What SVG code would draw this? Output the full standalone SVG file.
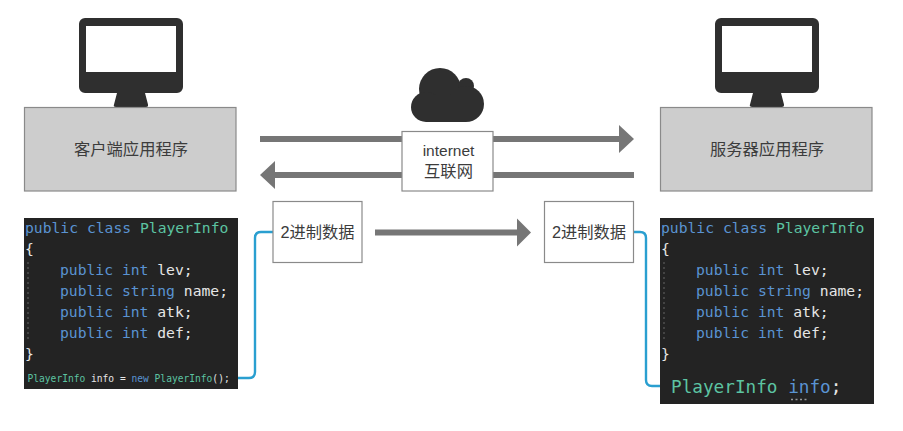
<svg xmlns="http://www.w3.org/2000/svg" width="903" height="431" viewBox="0 0 903 431">
<defs>
<style>
.t{font-family:"Liberation Sans","Noto Sans CJK SC",sans-serif;font-size:16.300px;fill:#3c3c3c;text-anchor:middle}
.box{fill:#fff;stroke:#8a8a8a;stroke-width:1.2}
.app{fill:#cdcdcd;stroke:#8a8a8a;stroke-width:1.2}
.code{fill:#232323}
.c{font-family:"DejaVu Sans Mono",monospace;font-size:14.700px}
.k{fill:#5a93d2}.g{fill:#5cc4a2}.w{fill:#e6e6e6}
.guide{stroke:#666;stroke-width:1;stroke-dasharray:2 3}
.ar{stroke:#767676;stroke-width:6;fill:none}
.head{fill:#767676}
.link{stroke:#2a9fd0;stroke-width:2.4;fill:none}
</style>
<g id="mon">
<path fill="#2f2f2f" fill-rule="evenodd" d="M85 18H177a6 6 0 0 1 6 6V87a6 6 0 0 1-6 6H145L148 104.500Q148.500 107 146 107H116Q113 107 114 104.500L117 93H85a6 6 0 0 1-6-6V24a6 6 0 0 1 6-6ZM86 26V72H176V26Z"/>
</g>
</defs>
<rect width="903" height="431" fill="#fff"/>
<g id="connectors">
<path class="ar" d="M260 139H620"/><path class="head" d="M619 125L634 139L619 153Z"/>
<path class="ar" d="M634 175H274"/><path class="head" d="M275 161L260 175L275 189Z"/>
<path class="ar" d="M375 232.500H518"/><path class="head" d="M517 218.500L531 232.500L517 246.500Z"/>
<path class="link" d="M273 232H261Q255 232 255 238V372Q255 378 249 378H238"/>
<path class="link" d="M633 232H640Q646 232 646 238V380Q646 386 652 386H660"/>
</g>
<g id="client-monitor"><use href="#mon"/></g>
<g id="server-monitor"><use href="#mon" x="636"/></g>
<g id="client-app"><rect class="app" x="24.500" y="107.500" width="211.500" height="83.500"/><text class="t" x="131" y="155">客户端应用程序</text></g>
<g id="server-app"><rect class="app" x="660.500" y="107.500" width="211.500" height="83.500"/><text class="t" x="767" y="155">服务器应用程序</text></g>
<g id="cloud" fill="#2f2f2f"><circle cx="440" cy="89" r="21"/><circle cx="466" cy="86" r="8"/><circle cx="426" cy="107" r="15"/><circle cx="466" cy="104" r="18"/><rect x="426" y="95" width="40" height="27"/></g>
<g id="internet"><rect class="box" x="402" y="131.500" width="91" height="59.500"/><text class="t" x="448.500" y="156" style="font-size:15.500px">internet</text><text class="t" x="448.500" y="177">互联网</text></g>
<g id="data-left"><rect class="box" x="273" y="201.500" width="89" height="61"/><text class="t" x="317.500" y="238">2进制数据</text></g>
<g id="data-right"><rect class="box" x="544.500" y="201.500" width="89" height="61"/><text class="t" x="589" y="238">2进制数据</text></g>
<g id="code-left">
<rect class="code" x="24" y="218" width="214" height="171"/>
<path class="guide" d="M28 262V342"/>
<text class="c" x="25" y="233"><tspan class="k">public class </tspan><tspan class="g">PlayerInfo</tspan></text>
<text class="c w" x="25" y="254">{</text>
<text class="c" x="60" y="275"><tspan class="k">public int </tspan><tspan class="w">lev;</tspan></text>
<text class="c" x="60" y="296"><tspan class="k">public string </tspan><tspan class="w">name;</tspan></text>
<text class="c" x="60" y="317"><tspan class="k">public int </tspan><tspan class="w">atk;</tspan></text>
<text class="c" x="60" y="338"><tspan class="k">public int </tspan><tspan class="w">def;</tspan></text>
<text class="c w" x="25" y="359">}</text>
<text class="c" x="27.500" y="382" style="font-size:9.600px"><tspan class="g">PlayerInfo </tspan><tspan class="w">info = </tspan><tspan class="k">new </tspan><tspan class="g">PlayerInfo</tspan><tspan class="w">();</tspan></text>
</g>
<g id="code-right">
<rect class="code" x="660" y="218" width="214" height="186"/>
<path class="guide" d="M664 262V342"/>
<text class="c" x="661" y="233"><tspan class="k">public class </tspan><tspan class="g">PlayerInfo</tspan></text>
<text class="c w" x="661" y="254">{</text>
<text class="c" x="696" y="275"><tspan class="k">public int </tspan><tspan class="w">lev;</tspan></text>
<text class="c" x="696" y="296"><tspan class="k">public string </tspan><tspan class="w">name;</tspan></text>
<text class="c" x="696" y="317"><tspan class="k">public int </tspan><tspan class="w">atk;</tspan></text>
<text class="c" x="696" y="338"><tspan class="k">public int </tspan><tspan class="w">def;</tspan></text>
<text class="c w" x="661" y="359">}</text>
<text class="c" x="671" y="393" style="font-size:17.700px"><tspan class="g">PlayerInfo </tspan><tspan class="k">info</tspan><tspan class="w">;</tspan></text>
<path d="M791 399.500H807" stroke="#999" stroke-width="1.500" stroke-dasharray="2 2.500"/>
</g>
</svg>
